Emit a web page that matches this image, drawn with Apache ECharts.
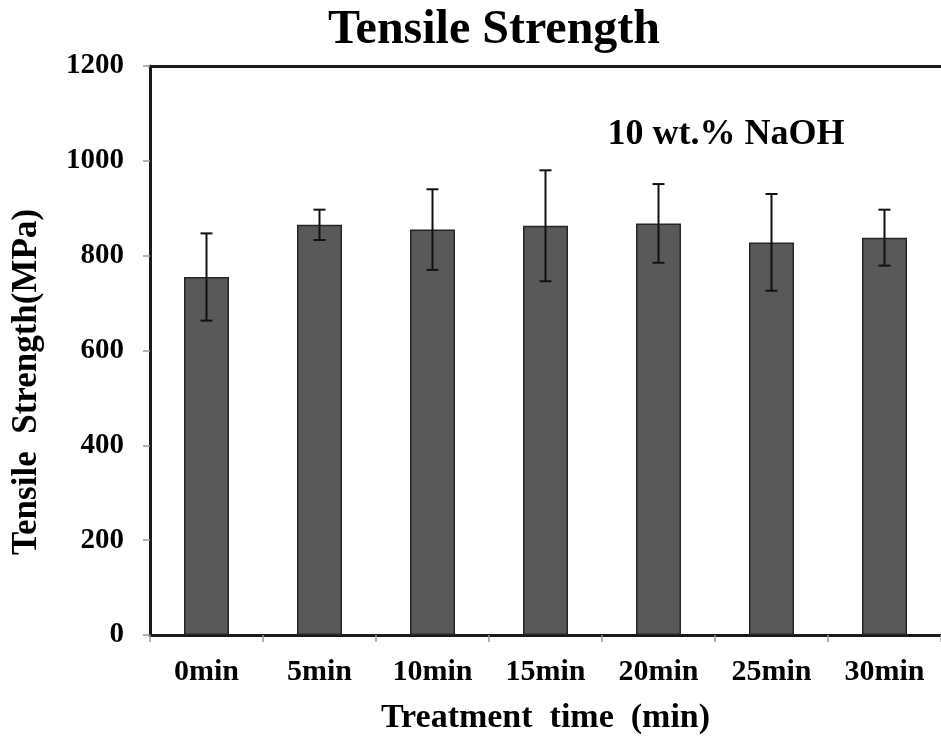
<!DOCTYPE html>
<html>
<head>
<meta charset="utf-8">
<title>Tensile Strength</title>
<script src="https://cdn.jsdelivr.net/npm/echarts@6/dist/echarts.min.js"></script>
<style>
  html, body { margin: 0; padding: 0; background: #fff; }
  #chart { width: 941px; height: 744px; }
</style>
</head>
<body>
<div id="chart"></div>
<script>
// Treatment times and measured tensile strength (MPa)
const categories = ['0min', '5min', '10min', '15min', '20min', '25min', '30min'];
const strength = [755, 865, 855, 863, 868, 828, 838];
const deviation = [92, 32, 85, 117, 83, 102, 59];
const yTicks = { min: 0, max: 1200, step: 200 };

const serif = '"Liberation Serif", "Times New Roman", serif';

// error bar ranges [category index, low, high]
const errorData = strength.map((v, i) => [i, v - deviation[i], v + deviation[i]]);

const chart = echarts.init(document.getElementById('chart'), null, { renderer: 'canvas' });

chart.setOption({
  animation: false,
  backgroundColor: '#ffffff',
  title: {
    text: 'Tensile Strength',
    left: 489,
    top: 2,
    textAlign: 'center',
    textStyle: { fontFamily: serif, fontWeight: 'bold', fontSize: 48, color: '#000' }
  },
  grid: { left: 150, top: 66, width: 798, height: 569, containLabel: false },
  xAxis: [
    {
      type: 'category',
      data: categories,
      position: 'bottom',
      boundaryGap: true,
      axisLine: { show: true, lineStyle: { color: '#1a1a1a', width: 3 } },
      axisTick: { show: true, alignWithLabel: false, length: 7, lineStyle: { color: '#999', width: 1.5 } },
      axisLabel: { margin: 22, fontFamily: serif, fontWeight: 'bold', fontSize: 30, color: '#000' },
      name: 'Treatment  time  (min)',
      nameLocation: 'middle',
      nameGap: 66,
      nameTextStyle: { fontFamily: serif, fontWeight: 'bold', fontSize: 34, color: '#000' }
    },
    {
      type: 'category',
      data: categories,
      position: 'top',
      axisLine: { show: true, lineStyle: { color: '#1a1a1a', width: 3 } },
      axisTick: { show: false },
      axisLabel: { show: false }
    }
  ],
  yAxis: {
    type: 'value',
    min: yTicks.min,
    max: yTicks.max,
    interval: yTicks.step,
    axisLine: { show: true, lineStyle: { color: '#1a1a1a', width: 3 } },
    axisTick: { show: true, length: 7, lineStyle: { color: '#999', width: 1.5 } },
    splitLine: { show: false },
    axisLabel: {
      margin: 26,
      fontFamily: serif,
      fontWeight: 'bold',
      fontSize: 29,
      color: '#000',
      formatter: function (v) { return String(v); }
    }
  },
  graphic: [
    {
      type: 'text',
      x: 27,
      y: 382,
      rotation: Math.PI / 2,
      style: {
        text: 'Tensile  Strength(MPa)',
        fontFamily: serif,
        fontWeight: 'bold',
        fontSize: 35,
        fill: '#000',
        align: 'center',
        verticalAlign: 'middle'
      }
    },
    {
      type: 'text',
      x: 726,
      y: 135,
      style: {
        text: '10 wt.% NaOH',
        fontFamily: serif,
        fontWeight: 'bold',
        fontSize: 36,
        fill: '#000',
        align: 'center',
        verticalAlign: 'middle'
      }
    }
  ],
  series: [
    {
      type: 'bar',
      data: strength,
      barWidth: 45,
      itemStyle: { color: '#595959', borderColor: '#262626', borderWidth: 1.5 },
      z: 3
    },
    {
      type: 'custom',
      data: errorData,
      z: 5,
      renderItem: function (params, api) {
        const idx = api.value(0);
        const lo = api.coord([idx, api.value(1)]);
        const hi = api.coord([idx, api.value(2)]);
        const cap = 6;
        const style = { stroke: '#111', lineWidth: 2 };
        return {
          type: 'group',
          children: [
            { type: 'line', shape: { x1: hi[0], y1: hi[1], x2: lo[0], y2: lo[1] }, style: style },
            { type: 'line', shape: { x1: hi[0] - cap, y1: hi[1], x2: hi[0] + cap, y2: hi[1] }, style: style },
            { type: 'line', shape: { x1: lo[0] - cap, y1: lo[1], x2: lo[0] + cap, y2: lo[1] }, style: style }
          ]
        };
      },
      encode: { x: 0, y: [1, 2] }
    }
  ]
});
</script>
</body>
</html>
